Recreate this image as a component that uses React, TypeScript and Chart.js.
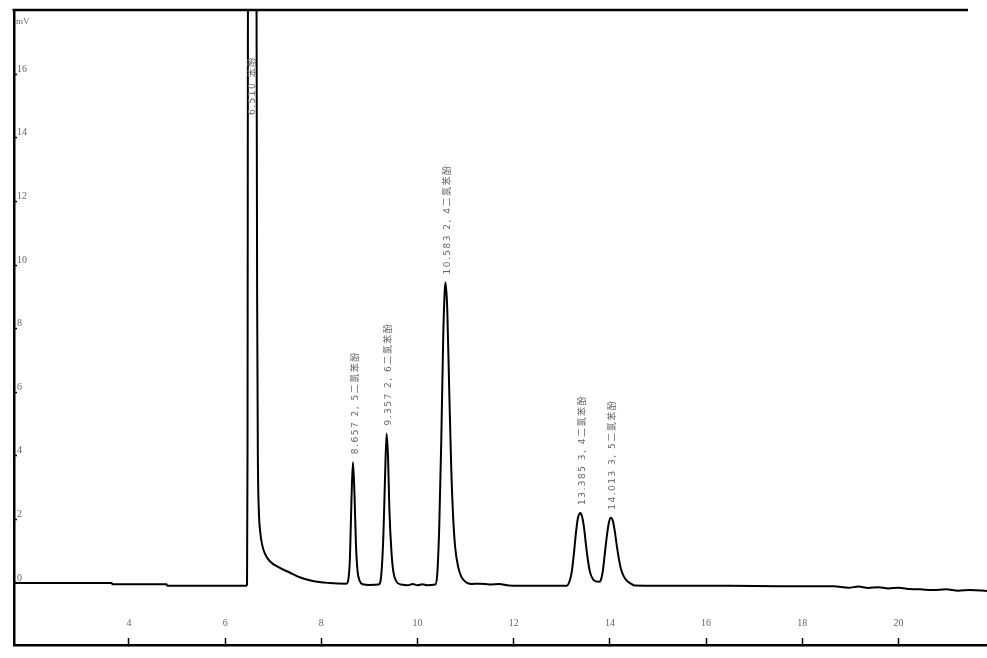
import React, { useEffect, useRef } from 'react';
import { Chart, registerables } from 'chart.js';

Chart.register(...registerables);

// Chromatogram trace: retention time (min) and signal (mV)
const traceTime = [
  1.61, 2.5, 3.64, 3.66, 4.78, 4.8, 6.44,
  6.455, 6.465, 6.475, 6.51, 6.65, 6.665, 6.68, 6.7, 6.73, 6.77, 6.82, 6.92, 7.13, 7.34, 7.55, 7.82, 8.17, 8.52,
  8.56, 8.595, 8.626, 8.657, 8.689, 8.72, 8.751, 8.793, 8.86, 9.0, 9.19,
  9.249, 9.29, 9.322, 9.357, 9.388, 9.415, 9.457, 9.498, 9.56, 9.66, 9.8, 9.9, 10.0, 10.1, 10.2, 10.37,
  10.411, 10.452, 10.494, 10.535, 10.566, 10.583, 10.618, 10.66, 10.701, 10.743, 10.784, 10.846, 10.909, 11.012, 11.116,
  11.3, 11.5, 11.7, 11.9, 12.4, 13.1,
  13.17, 13.211, 13.253, 13.295, 13.336, 13.385, 13.419, 13.461, 13.502, 13.544, 13.585, 13.647, 13.71, 13.772,
  13.813, 13.855, 13.896, 13.938, 13.979, 14.013, 14.062, 14.104, 14.145, 14.187, 14.228, 14.29, 14.353, 14.436, 14.519,
  15.5, 16.5, 17.5, 18.65, 18.96, 19.17, 19.37, 19.58, 19.79, 20.0, 20.24, 20.45, 20.72, 20.99, 21.24, 21.49, 21.84,
];
const traceMv = [
  0.0, 0.0, 0.0, -0.04, -0.04, -0.09, -0.09,
  -0.05, 4, 20, 40, 20, 9, 4.0, 2.3, 1.6, 1.2, 0.95, 0.7, 0.48, 0.33, 0.18, 0.06, 0.0, -0.02,
  0.1, 0.8, 2.6, 3.8, 2.8, 1.2, 0.4, 0.08, -0.04, -0.06, -0.05,
  0.3, 1.5, 3.2, 4.7, 3.9, 2.3, 1.0, 0.35, 0.05, -0.05, -0.07, -0.03, -0.07, -0.04, -0.07, -0.05,
  0.3, 1.8, 4.5, 7.8, 9.2, 9.45, 8.6, 6.0, 3.6, 2.0, 1.1, 0.5, 0.2, 0.02, -0.03,
  -0.02, -0.05, -0.03, -0.08, -0.09, -0.09,
  0.1, 0.4, 0.95, 1.6, 2.05, 2.2, 2.1, 1.75, 1.2, 0.7, 0.35, 0.12, 0.05, 0.04,
  0.1, 0.4, 0.95, 1.5, 1.9, 2.05, 1.95, 1.6, 1.15, 0.75, 0.45, 0.2, 0.07, -0.02, -0.08,
  -0.09, -0.09, -0.1, -0.1, -0.15, -0.11, -0.16, -0.13, -0.17, -0.15, -0.19, -0.2, -0.22, -0.2, -0.24, -0.22, -0.25,
];

// Identified peaks
const peakTimes = [6.51, 8.657, 9.357, 10.583, 13.385, 14.013];
const peakHeights = [40, 3.8, 4.7, 9.45, 2.2, 2.05];
const peakNames = ['苯酚', '2, 5二氯苯酚', '2, 6二氯苯酚', '2, 4二氯苯酚', '3, 4二氯苯酚', '3, 5二氯苯酚'];

// Axes
const xTicks = [4, 6, 8, 10, 12, 14, 16, 18, 20];
const yTicks = [0, 2, 4, 6, 8, 10, 12, 14, 16];
const yUnit = 'mV';

const labelColor = '#666';

const decorPlugin = {
  id: 'decor',
  afterDatasetsDraw(chart: any) {
    const { ctx, chartArea, scales } = chart;
    const xs = scales.x;
    const ys = scales.y;
    ctx.save();
    // top frame line
    ctx.strokeStyle = '#000';
    ctx.lineWidth = 2.5;
    ctx.beginPath();
    ctx.moveTo(chartArea.left - 1.5, chartArea.top);
    ctx.lineTo(chartArea.right - 19, chartArea.top);
    ctx.stroke();
    // unit
    ctx.fillStyle = labelColor;
    ctx.font = "9px 'Liberation Serif'";
    ctx.textAlign = 'left';
    ctx.textBaseline = 'middle';
    ctx.fillText(yUnit, chartArea.left + 2, chartArea.top + 12);
    // peak labels
    ctx.font = "9px 'DejaVu Sans', 'Noto Sans CJK SC'";
    (ctx as any).letterSpacing = '1.5px';
    for (let i = 0; i < peakTimes.length; i++) {
      const px = xs.getPixelForValue(peakTimes[i]) + 2.5;
      const py = Math.max(ys.getPixelForValue(peakHeights[i]) - 8, chartArea.top + 105);
      ctx.save();
      ctx.translate(px, py);
      ctx.rotate(-Math.PI / 2);
      ctx.textAlign = 'left';
      ctx.textBaseline = 'middle';
      ctx.fillText(`${peakTimes[i].toFixed(3)} ${peakNames[i]}`, 0, 0);
      ctx.restore();
    }
    ctx.restore();
  },
};

export default function App() {
  const ref = useRef<HTMLCanvasElement | null>(null);
  useEffect(() => {
    if (!ref.current) return;
    const chart = new Chart(ref.current, {
      type: 'line',
      data: {
        datasets: [
          {
            data: traceTime.map((t, i) => ({ x: t, y: traceMv[i] })),
            borderColor: '#000',
            borderWidth: 2,
            pointRadius: 0,
            cubicInterpolationMode: 'monotone',
            fill: false,
          },
        ],
      },
      options: {
        animation: false,
        responsive: false,
        events: [],
        layout: { padding: { left: 14, top: 10, right: 0, bottom: 13 } },
        plugins: { legend: { display: false }, tooltip: { enabled: false } },
        scales: {
          x: {
            type: 'linear',
            position: 'bottom',
            min: 1.61,
            max: 21.84,
            afterBuildTicks: (s: any) => {
              s.ticks = xTicks.map((v) => ({ value: v }));
            },
            afterFit: (s: any) => {
              s.height = 0;
            },
            grid: {
              display: true,
              drawOnChartArea: false,
              drawTicks: true,
              tickLength: -7,
              tickColor: '#000',
              tickWidth: 1.5,
            },
            border: { display: true, color: '#000', width: 2.5 },
            ticks: {
              mirror: true,
              padding: 16,
              color: labelColor,
              autoSkip: false,
              maxRotation: 0,
              font: { family: "'Liberation Serif'", size: 10 },
            },
          },
          y: {
            type: 'linear',
            position: 'left',
            min: -1.95,
            max: 18.02,
            afterBuildTicks: (s: any) => {
              s.ticks = yTicks.map((v) => ({ value: v }));
            },
            afterFit: (s: any) => {
              s.width = 0;
            },
            grid: {
              display: true,
              drawOnChartArea: false,
              drawTicks: true,
              tickLength: -3,
              tickColor: '#000',
              tickWidth: 1.5,
            },
            border: { display: true, color: '#000', width: 2.5 },
            ticks: {
              mirror: true,
              padding: 3,
              labelOffset: -5,
              color: labelColor,
              autoSkip: false,
              font: { family: "'Liberation Serif'", size: 10 },
            },
          },
        },
      },
      plugins: [decorPlugin],
    } as any);
    return () => chart.destroy();
  }, []);
  return (
    <div style={{ position: 'absolute', left: 0, top: 0, width: 987, height: 658, background: '#fff' }}>
      <canvas ref={ref} width={987} height={658} style={{ display: 'block' }} />
    </div>
  );
}
